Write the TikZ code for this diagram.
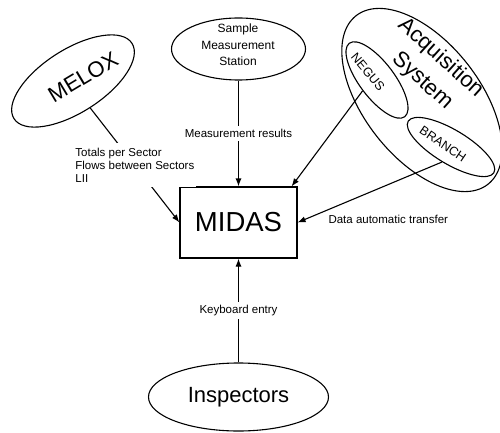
\documentclass[tikz,border=0pt]{standalone}
\usepackage{fontspec}
\setmainfont{Liberation Sans}
\usetikzlibrary{shapes.geometric,arrows.meta}
\begin{document}
\begin{tikzpicture}[x=1pt,y=-1pt,
  ell/.style={draw, ellipse, line width=1.1pt, inner sep=0pt},
  arr/.style={line width=1.1pt, -{Latex[length=8pt,width=6pt]}},
  small/.style={font=\fontsize{11.5}{13}\selectfont},
  lab/.style={small, fill=white, inner xsep=2pt, inner ysep=3pt},
  big/.style={font=\fontsize{22}{24}\selectfont, inner sep=0pt},
  ]
\useasboundingbox (0,0) rectangle (500,433);

% ellipses
\node[ell, minimum width=140pt, minimum height=63pt, rotate=32.6] (melox) at (73,81) {};
\node[ell, minimum width=134pt, minimum height=62pt] (sms) at (238.5,49) {};
\node[ell, minimum width=214pt, minimum height=116pt, rotate=-52] (acq) at (422,100) {};
\node[ell, minimum width=92pt, minimum height=35pt, rotate=-53] (negus) at (377,80) {};
\node[ell, minimum width=100pt, minimum height=34pt, rotate=-31] (branch) at (451,147) {};
\node[ell, minimum width=180pt, minimum height=68pt, font=\fontsize{22}{24}\selectfont] (insp) at (238.5,397) {Inspectors};

% MIDAS box
\node[draw, line width=1.1pt, minimum width=117pt, minimum height=71pt, inner sep=0pt,
      font=\fontsize{27.5}{30}\selectfont] (midas) at (238.5,222.5) {MIDAS};

% texts inside ellipses
\node[big, rotate=31] (meloxt) at (83,77) {MELOX};
\node[align=center, font=\fontsize{12}{16.5}\selectfont] (smst) at (238,45) {Sample\\Measurement\\Station};
\node[big, rotate=-42] (acqt1) at (441,58) {Acquisition};
\node[big, rotate=-42] (acqt2) at (422,81) {System};
\node[rotate=-50, inner sep=0pt, font=\fontsize{12.5}{14}\selectfont] (negust) at (368,72) {NEGUS};
\node[rotate=-34, inner sep=0pt, font=\fontsize{12.5}{14}\selectfont] (brancht) at (443,144) {BRANCH};

% connectors
\draw[arr] (sms.south) -- node[lab] (mr) {Measurement results} (midas.north);
\draw[arr] (melox.south) -- node[lab, align=left, inner ysep=5pt] (tps)
  {Totals per Sector\\Flows between Sectors\\LII} (midas.west);
\draw[arr] (negus.south) -- ([xshift=-6pt]midas.north east);
\draw[arr] (branch.south) -- (midas.east);
\node[small, anchor=west] (dat) at (325,219) {Data automatic transfer};
\draw[arr] (insp.north) -- node[lab] (kb) {Keyboard entry} (midas.south);
\end{tikzpicture}
\end{document}
